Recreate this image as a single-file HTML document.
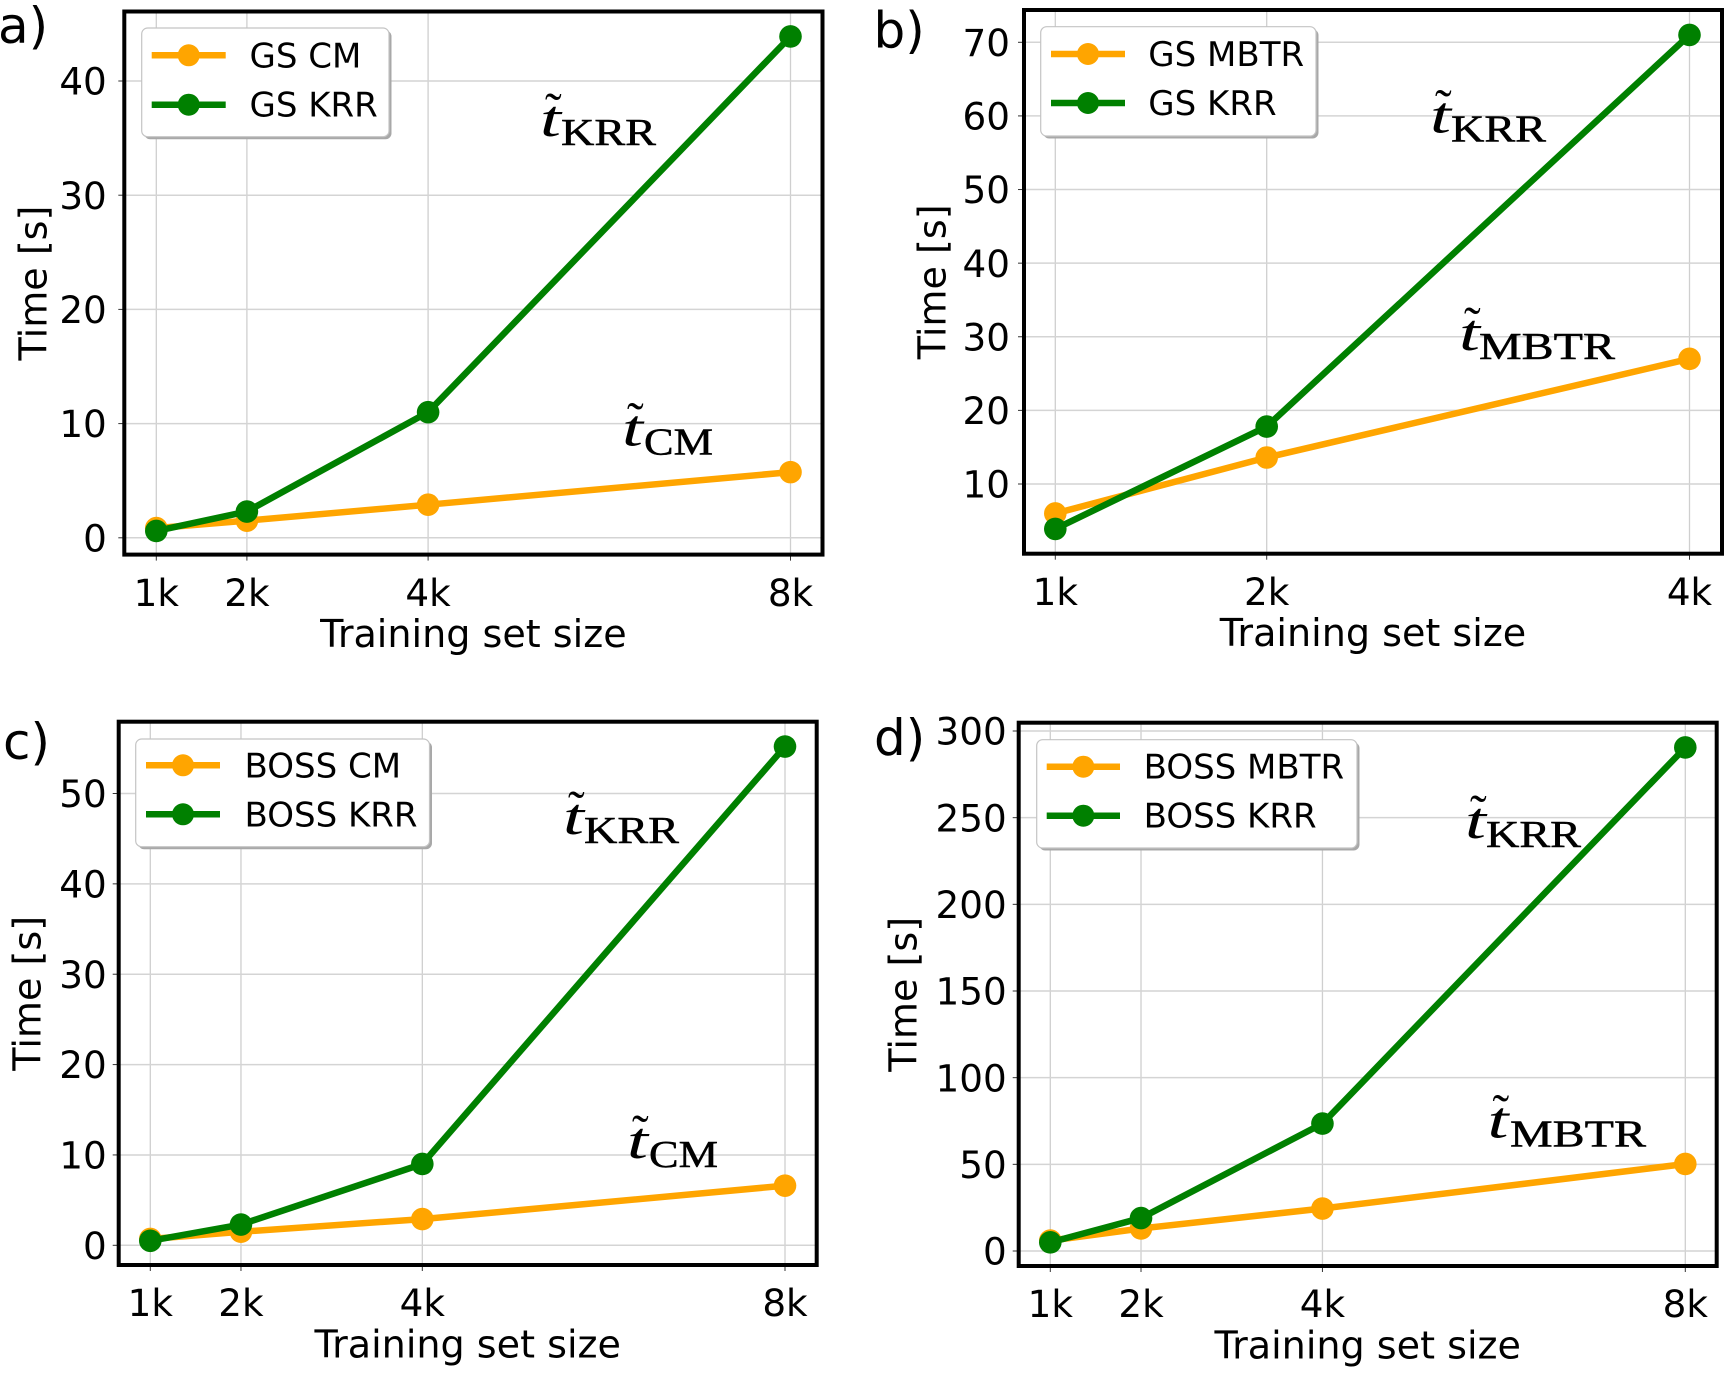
<!DOCTYPE html>
<html lang="en">
<head>
<meta charset="utf-8">
<title>Training time vs training set size</title>
<style>
html,body{margin:0;padding:0;background:#fff;}
svg{display:block;}
text{font-family:"DejaVu Sans","Liberation Sans",sans-serif;fill:#000;}
.math{font-family:"Liberation Serif",serif;}
</style>
</head>
<body>
<svg id="figure" xmlns="http://www.w3.org/2000/svg" width="1731" height="1375" viewBox="0 0 1731 1375"></svg>
<script>
// Panel a
const sizesA = [1, 2, 4, 8];
const xLabelsA = ['1k', '2k', '4k', '8k'];
const yTicksA = [0, 10, 20, 30, 40];
const descA = [0.85, 1.5, 2.9, 5.75];
const krrA = [0.6, 2.3, 11, 43.9];
// Panel b
const sizesB = [1, 2, 4];
const xLabelsB = ['1k', '2k', '4k'];
const yTicksB = [10, 20, 30, 40, 50, 60, 70];
const descB = [6, 13.6, 27];
const krrB = [3.9, 17.8, 71];
// Panel c
const sizesC = [1, 2, 4, 8];
const xLabelsC = ['1k', '2k', '4k', '8k'];
const yTicksC = [0, 10, 20, 30, 40, 50];
const descC = [0.7, 1.5, 2.9, 6.6];
const krrC = [0.5, 2.3, 9, 55.2];
// Panel d
const sizesD = [1, 2, 4, 8];
const xLabelsD = ['1k', '2k', '4k', '8k'];
const yTicksD = [0, 50, 100, 150, 200, 250, 300];
const descD = [6, 13, 24.5, 50.2];
const krrD = [5, 19, 73.5, 290.5];

const ORANGE = '#ffa500';
const GREEN = '#008000';
const root = document.getElementById('figure');
const NS = 'http://www.w3.org/2000/svg';

function mk(parent, tag, attrs, txt) {
  const el = document.createElementNS(NS, tag);
  for (const k in attrs) el.setAttribute(k, attrs[k]);
  if (txt !== undefined) el.textContent = txt;
  parent.appendChild(el);
  return el;
}
function linear(d0, d1, r0, r1) {
  return v => r0 + (v - d0) * (r1 - r0) / (d1 - d0);
}

const panels = [
  { id: 'a', letter: 'a)', lx: -2, ly: 43, tickGap: 17.5,
    L: 124.3, R: 822.5, T: 11.5, B: 554.6,
    x0: 156.3, x1: 790.5, dx0: 1, dx1: 8, y0: 537.8, y1: 81, dy0: 0, dy1: 40,
    sizes: sizesA, xLabels: xLabelsA, yTicks: yTicksA, desc: descA, krr: krrA,
    ylx: 46.6,
    names: ['GS CM', 'GS KRR'],
    leg: { x: 141.7, y: 28, w: 247.3, h: 108.7, lx0: 151.7, lx1: 225.7, rowA: 55.3, rowB: 104.7, tx: 249.5 },
    mathK: { t: 539, base: 136, sx: 561, sub: 145, w: 95 },
    mathD: { label: 'CM', t: 621, base: 445.3, sx: 644, sub: 454.3, w: 69 } },
  { id: 'b', letter: 'b)', lx: 873.5, ly: 47.3, tickGap: 14,
    L: 1024, R: 1722, T: 10, B: 553.7,
    x0: 1055.3, x1: 1689.5, dx0: 1, dx1: 4, y0: 484, y1: 42.3, dy0: 10, dy1: 70,
    sizes: sizesB, xLabels: xLabelsB, yTicks: yTicksB, desc: descB, krr: krrB,
    ylx: 945.5,
    names: ['GS MBTR', 'GS KRR'],
    leg: { x: 1040.7, y: 26.7, w: 275.3, h: 109.3, lx0: 1051, lx1: 1125, rowA: 54, rowB: 103, tx: 1148.3 },
    mathK: { t: 1429, base: 132.7, sx: 1451, sub: 141.7, w: 95 },
    mathD: { label: 'MBTR', t: 1458, base: 349.8, sx: 1479, sub: 358.8, w: 136 } },
  { id: 'c', letter: 'c)', lx: 3, ly: 759, tickGap: 12,
    L: 118.7, R: 816.7, T: 721.7, B: 1265,
    x0: 150.3, x1: 785, dx0: 1, dx1: 8, y0: 1245.3, y1: 793.5, dy0: 0, dy1: 50,
    sizes: sizesC, xLabels: xLabelsC, yTicks: yTicksC, desc: descC, krr: krrC,
    ylx: 40.5,
    names: ['BOSS CM', 'BOSS KRR'],
    leg: { x: 135.7, y: 739, w: 293.8, h: 107.7, lx0: 146, lx1: 220, rowA: 765.3, rowB: 814.3, tx: 244.5 },
    mathK: { t: 562, base: 833.8, sx: 584, sub: 842.8, w: 95 },
    mathD: { label: 'CM', t: 626, base: 1157.9, sx: 649, sub: 1166.9, w: 69 } },
  { id: 'd', letter: 'd)', lx: 874, ly: 755, tickGap: 12,
    L: 1018.7, R: 1716.7, T: 722.7, B: 1266,
    x0: 1050.3, x1: 1685.3, dx0: 1, dx1: 8, y0: 1251, y1: 731, dy0: 0, dy1: 300,
    sizes: sizesD, xLabels: xLabelsD, yTicks: yTicksD, desc: descD, krr: krrD,
    ylx: 916.5,
    names: ['BOSS MBTR', 'BOSS KRR'],
    leg: { x: 1036.7, y: 739.7, w: 320.3, h: 108.3, lx0: 1046.7, lx1: 1120, rowA: 766.7, rowB: 815.7, tx: 1143.6 },
    mathK: { t: 1464, base: 838, sx: 1486, sub: 847, w: 95 },
    mathD: { label: 'MBTR', t: 1486.5, base: 1137.3, sx: 1510, sub: 1146.3, w: 136 } }
];

function drawSeries(g, xs, ys, vals, sizes, color, name) {
  const pts = sizes.map((s, i) => xs(s).toFixed(2) + ',' + ys(vals[i]).toFixed(2)).join(' ');
  const line = mk(g, 'polyline', { points: pts, fill: 'none', stroke: color, 'stroke-width': 6.5, 'stroke-linejoin': 'round' });
  
  
  sizes.forEach((s, i) => {
    const c = mk(g, 'circle', { cx: xs(s), cy: ys(vals[i]), r: 11.3, fill: color });
    
    
  });
}

function drawMath(g, m, label, name) {
  const grp = mk(g, 'g', {});
  
  
  mk(grp, 'text', { class: 'math', x: m.t + 1, y: m.base, 'font-size': 52, 'font-style': 'italic', textLength: 21, lengthAdjust: 'spacingAndGlyphs' }, 't');
  mk(grp, 'text', { class: 'math', x: m.t + 6, y: m.base - 9, 'font-size': 50 }, '\u02DC');
  mk(grp, 'text', { class: 'math', x: m.sx, y: m.sub, 'font-size': 38, stroke: '#000', 'stroke-width': 0.5, textLength: m.w, lengthAdjust: 'spacingAndGlyphs' }, label);
}

panels.forEach(p => {
  const g = mk(root, 'g', {});
  
  
  const xs = linear(p.dx0, p.dx1, p.x0, p.x1);
  const ys = linear(p.dy0, p.dy1, p.y0, p.y1);

  const letter = mk(g, 'text', { x: p.lx, y: p.ly, 'font-size': 50 }, p.letter);
  
  

  mk(g, 'rect', { x: p.L, y: p.T, width: p.R - p.L, height: p.B - p.T, fill: '#fff' });

  p.sizes.forEach((s, i) => {
    const gx = mk(g, 'line', { x1: xs(s), x2: xs(s), y1: p.T, y2: p.B, stroke: '#cfcfcf', 'stroke-width': 1.3 });
    
    
    const tk = mk(g, 'line', { x1: xs(s), x2: xs(s), y1: p.B, y2: p.B + 6, stroke: '#333', 'stroke-width': 1 });
    
    
    const lb = mk(g, 'text', { x: xs(s), y: p.B + 51.2, 'font-size': 37.3, 'text-anchor': 'middle' }, p.xLabels[i]);
    
    
  });
  p.yTicks.forEach(v => {
    const gy = mk(g, 'line', { x1: p.L, x2: p.R, y1: ys(v), y2: ys(v), stroke: '#d4d4d4', 'stroke-width': 1.5 });
    
    
    const tk = mk(g, 'line', { x1: p.L - 6, x2: p.L, y1: ys(v), y2: ys(v), stroke: '#333', 'stroke-width': 1 });
    
    
    const lb = mk(g, 'text', { x: p.L - p.tickGap, y: ys(v) + 13.6, 'font-size': 37.3, 'text-anchor': 'end' }, String(v));
    
    
  });

  drawSeries(g, xs, ys, p.desc, p.sizes, ORANGE, p.names[0].toLowerCase().replace(' ', '-'));
  drawSeries(g, xs, ys, p.krr, p.sizes, GREEN, p.names[1].toLowerCase().replace(' ', '-'));

  const frame = mk(g, 'rect', { x: p.L, y: p.T, width: p.R - p.L, height: p.B - p.T, fill: 'none', stroke: '#000', 'stroke-width': 4 });
  
  

  const cx = (p.L + p.R) / 2, cy = (p.T + p.B) / 2;
  const xt = mk(g, 'text', { x: cx, y: p.B + 92.3, 'font-size': 38.1, 'text-anchor': 'middle' }, 'Training set size');
  
  
  const yt = mk(g, 'text', { x: 0, y: 0, 'font-size': 38.1, 'text-anchor': 'middle', transform: 'translate(' + p.ylx + ',' + cy + ') rotate(-90)' }, 'Time [s]');
  
  

  drawMath(g, p.mathK, 'KRR', 'annotation-t-krr');
  drawMath(g, p.mathD, p.mathD.label, 'annotation-t-' + p.mathD.label.toLowerCase());

  const lg = mk(g, 'g', {});
  
  
  const L = p.leg;
  mk(lg, 'rect', { x: L.x + 2.5, y: L.y + 2.5, width: L.w, height: L.h, rx: 6, fill: '#a8a8a8' });
  mk(lg, 'rect', { x: L.x, y: L.y, width: L.w, height: L.h, rx: 6, fill: '#fff', stroke: '#c4c4c4', 'stroke-width': 1.2 });
  [[L.rowA, ORANGE, p.names[0]], [L.rowB, GREEN, p.names[1]]].forEach(row => {
    const e = mk(lg, 'g', {});
    
    
    mk(e, 'line', { x1: L.lx0, x2: L.lx1, y1: row[0], y2: row[0], stroke: row[1], 'stroke-width': 6.5 });
    mk(e, 'circle', { cx: (L.lx0 + L.lx1) / 2, cy: row[0], r: 11, fill: row[1] });
    mk(e, 'text', { x: L.tx, y: row[0] + 12, 'font-size': 34 }, row[2]);
  });
});
</script>
</body>
</html>
